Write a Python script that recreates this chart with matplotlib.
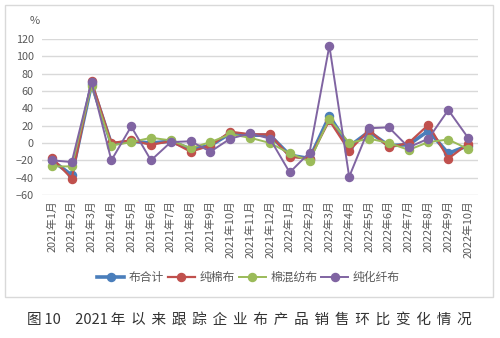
import numpy as np
import matplotlib
matplotlib.use("Agg")
import matplotlib.pyplot as plt
from matplotlib.patches import Rectangle

plt.rcParams['font.family'] = ['Noto Sans CJK SC', 'DejaVu Sans']

# 月份标签
months = ['2021年1月', '2021年2月', '2021年3月', '2021年4月', '2021年5月', '2021年6月',
          '2021年7月', '2021年8月', '2021年9月', '2021年10月', '2021年11月', '2021年12月',
          '2022年1月', '2022年2月', '2022年3月', '2022年4月', '2022年5月', '2022年6月',
          '2022年7月', '2022年8月', '2022年9月', '2022年10月']

# 环比变化 (%)
total = [-20, -37, 68, -1, 2, 0, 2, -7, -3, 11, 9, 9, -14, -18, 31, -4, 13, -3, -2, 14, -12, -3]
cotton = [-17, -41, 71, 0, 3, -2, 2, -10, -3, 13, 10, 10, -16, -18, 26, -9, 15, -5, 0, 21, -18, -1]
blend = [-27, -27, 66, -3, 1, 6, 3, -6, 1, 10, 6, 0, -12, -21, 28, 0, 5, 0, -8, 1, 4, -7]
synthetic = [-20, -22, 70, -20, 19, -20, 1, 2, -10, 5, 11, 5, -34, -11, 112, -39, 17, 18, -5, 5, 38, 6]

series = [
    ('布合计', total, '#4a7ebb', 2.6),
    ('纯棉布', cotton, '#c0504d', 1.6),
    ('棉混纺布', blend, '#9bbb59', 1.4),
    ('纯化纤布', synthetic, '#8064a2', 1.4),
]

fig = plt.figure(figsize=(5, 3.38), dpi=100)
ax = fig.add_axes([0.084, 0.423, 0.872, 0.462])

x = np.arange(len(months))
for name, vals, color, lw in series:
    ax.plot(x, vals, color=color, lw=lw, marker='o', ms=5.8, label=name)

ax.set_xlim(-0.5, len(months) - 0.5)
ax.set_ylim(-60, 120)
ax.set_yticks(np.arange(-60, 121, 20))
ax.yaxis.grid(True, color='#d9d9d9', lw=1)
ax.set_axisbelow(True)
for s in ax.spines.values():
    s.set_visible(False)
ax.tick_params(axis='both', length=0, colors='#595959', labelsize=7.8)
ax.tick_params(axis='y', pad=6)
ax.set_xticks(x)
ax.set_xticklabels(months, rotation=90, fontsize=7.8, color='#595959')

fig.text(0.07, 0.938, '%', fontsize=8, color='#595959', ha='center', va='center')

fig.legend(loc='center', bbox_to_anchor=(0.497, 0.18), ncol=4, frameon=False,
           fontsize=8.5, handlelength=2.3, columnspacing=0.3, handletextpad=0.4,
           labelcolor='#595959')

fig.patches.append(Rectangle((0.01, 0.121), 0.976, 0.864, transform=fig.transFigure,
                             fill=False, edgecolor='#d9d9d9', lw=1))

# 标题字间距
t = '\u2009'
caption = '图' + t + '10' + t * 5 + '2021' + t + (t * 2).join('年以来跟踪企业布产品销售环比变化情况')
fig.text(0.498, 0.053, caption, fontsize=10.5,
         color='#333333', ha='center', va='center')

fig.savefig('out.png', dpi=100)
